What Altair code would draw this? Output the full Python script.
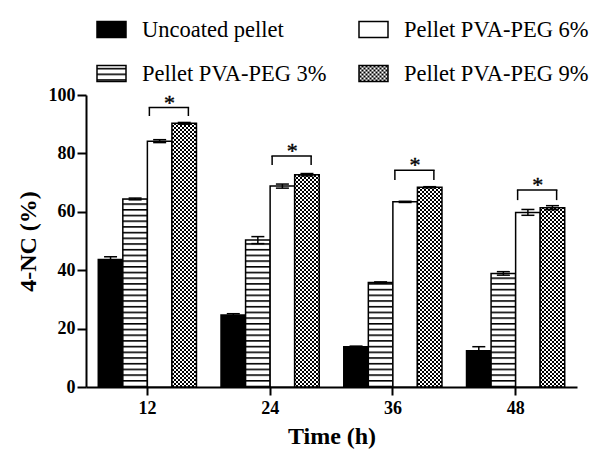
import altair as alt
import pandas as pd
import jinja2

# ---------------- data ----------------
times = ["12", "24", "36", "48"]
series = ["Uncoated pellet", "Pellet PVA-PEG 3%", "Pellet PVA-PEG 6%", "Pellet PVA-PEG 9%"]
uncoated = [43.7, 24.7, 13.8, 12.4]
uncoated_err = [0.9, 0.4, 0.2, 1.4]
peg3 = [64.4, 50.3, 35.8, 38.9]
peg3_err = [0.3, 1.2, 0.2, 0.6]
peg6 = [84.2, 68.8, 63.4, 59.8]
peg6_err = [0.5, 0.7, 0.2, 1.0]
peg9 = [90.3, 72.7, 68.4, 61.4]
peg9_err = [0.3, 0.4, 0.2, 0.7]
bracket_top = [95.7, 79.1, 74.2, 67.5]
bracket_leg = [92.8, 76.0, 70.9, 64.0]
stars = ["*", "*", "*", "*"]
y_ticks = [0, 20, 40, 60, 80, 100]

values = [uncoated, peg3, peg6, peg9]
errors = [uncoated_err, peg3_err, peg6_err, peg9_err]
rows = []
for s, vals, errs in zip(series, values, errors):
    for t, v, e in zip(times, vals, errs):
        rows.append({"time": t, "series": s, "value": v, "lo": v - e, "hi": v + e})
df = pd.DataFrame(rows)
df_br = pd.DataFrame({"time": times, "top": bracket_top, "leg": bracket_leg, "star": stars})

fills = ["black", "url(#hstripe)", "white", "url(#checker)"]

FONT = "Liberation Serif"
YT = "4-NC (%)"
XT = "Time (h)"

x_main = alt.X("time:N", sort=times, title=XT,
               scale=alt.Scale(paddingInner=0.2, paddingOuter=0.1),
               axis=alt.Axis(labelAngle=0, labelPadding=4, titlePadding=7))
x_plain = alt.X("time:N", sort=times, title=XT)
xo = alt.XOffset("series:N", sort=series, scale=alt.Scale(paddingInner=0, paddingOuter=0))

bars = alt.Chart(df).mark_bar(stroke="black", strokeWidth=1.5).encode(
    x=x_main,
    xOffset=xo,
    y=alt.Y("value:Q", title=YT, scale=alt.Scale(domain=[0, 100], nice=False),
            axis=alt.Axis(values=y_ticks, tickSize=9, labelPadding=2, titlePadding=8)),
    fill=alt.Fill("series:N",
                  scale=alt.Scale(domain=series, range=fills),
                  legend=alt.Legend(title=None, orient="none", legendX=10, legendY=-81,
                                    columns=2, symbolType="M-1,-0.552H1V0.552H-1Z",
                                    symbolSize=841, symbolStrokeColor="black",
                                    symbolStrokeWidth=1.5, symbolOffset=0,
                                    labelFont=FONT, labelFontSize=22.5, labelColor="black",
                                    labelOffset=15, columnPadding=29, rowPadding=17,
                                    labelLimit=400, padding=0)),
)

err_rule = alt.Chart(df).mark_rule(color="black", strokeWidth=1.5).encode(
    x=x_plain, xOffset=xo, y=alt.Y("lo:Q", title=YT), y2="hi:Q")
cap_lo = alt.Chart(df).mark_tick(orient="horizontal", size=13, thickness=1.5,
                                 color="black", opacity=1).encode(
    x=x_plain, xOffset=xo, y=alt.Y("lo:Q", title=YT))
cap_hi = alt.Chart(df).mark_tick(orient="horizontal", size=13, thickness=1.5,
                                 color="black", opacity=1).encode(
    x=x_plain, xOffset=xo, y=alt.Y("hi:Q", title=YT))

leg_l = alt.Chart(df_br).mark_rule(color="black", strokeWidth=1.5, xOffset=2).encode(
    x=x_plain, y=alt.Y("top:Q", title=YT), y2="leg:Q")
leg_r = alt.Chart(df_br).mark_rule(color="black", strokeWidth=1.5, xOffset=41).encode(
    x=x_plain, y=alt.Y("top:Q", title=YT), y2="leg:Q")
br_top = alt.Chart(df_br).mark_tick(orient="horizontal", size=40.5, thickness=1.5,
                                    color="black", opacity=1, xOffset=21.5).encode(
    x=x_plain, y=alt.Y("top:Q", title=YT))
star = alt.Chart(df_br).mark_text(font=FONT, fontSize=22, fill="black", stroke="black",
                                  strokeWidth=0.4, xOffset=22,
                                  baseline="alphabetic", dy=2).encode(
    x=x_plain, y=alt.Y("top:Q", title=YT), text="star:N")

chart = alt.layer(bars, err_rule, cap_lo, cap_hi, leg_l, leg_r, br_top, star).properties(
    width=491, height=292,
    autosize=alt.AutoSizeParams(type="none"),
    padding={"left": 78, "top": 87, "right": 12, "bottom": 64},
).configure_axis(
    domainColor="black", domainWidth=2, tickColor="black", tickWidth=2, tickSize=8,
    labelFont=FONT, labelFontWeight="bold", labelFontSize=18, labelColor="black",
    titleFont=FONT, titleFontWeight="bold", titleFontSize=24, titleColor="black",
    grid=False,
).configure_view(stroke="transparent")

defs = (
    '<style>html,body{overflow:hidden}body{margin:8px 0 0 8px}'
    '.vega-embed svg{flex-shrink:0}</style>'
    '<svg width="0" height="0" style="position:absolute;width:0;height:0" aria-hidden="true">'
    '<defs>'
    '<pattern id="hstripe" patternUnits="userSpaceOnUse" width="8" height="5.7">'
    '<rect width="8" height="5.7" fill="white"/>'
    '<rect width="8" height="1.6" fill="black"/>'
    '</pattern>'
    '<pattern id="checker" patternUnits="userSpaceOnUse" width="4" height="4">'
    '<rect width="4" height="4" fill="white"/>'
    '<rect width="2" height="2" fill="black"/>'
    '<rect x="2" y="2" width="2" height="2" fill="black"/>'
    '</pattern>'
    '</defs></svg>'
)
embed = {"renderer": "svg", "actions": False}
html = chart.to_html(embed_options=embed)
html = html.replace("<body>", "<body>\n" + defs, 1)
tmpl = jinja2.Template("{% raw %}" + html + "{% endraw %}")

chart.save("out.html", embed_options=embed, template=tmpl)
